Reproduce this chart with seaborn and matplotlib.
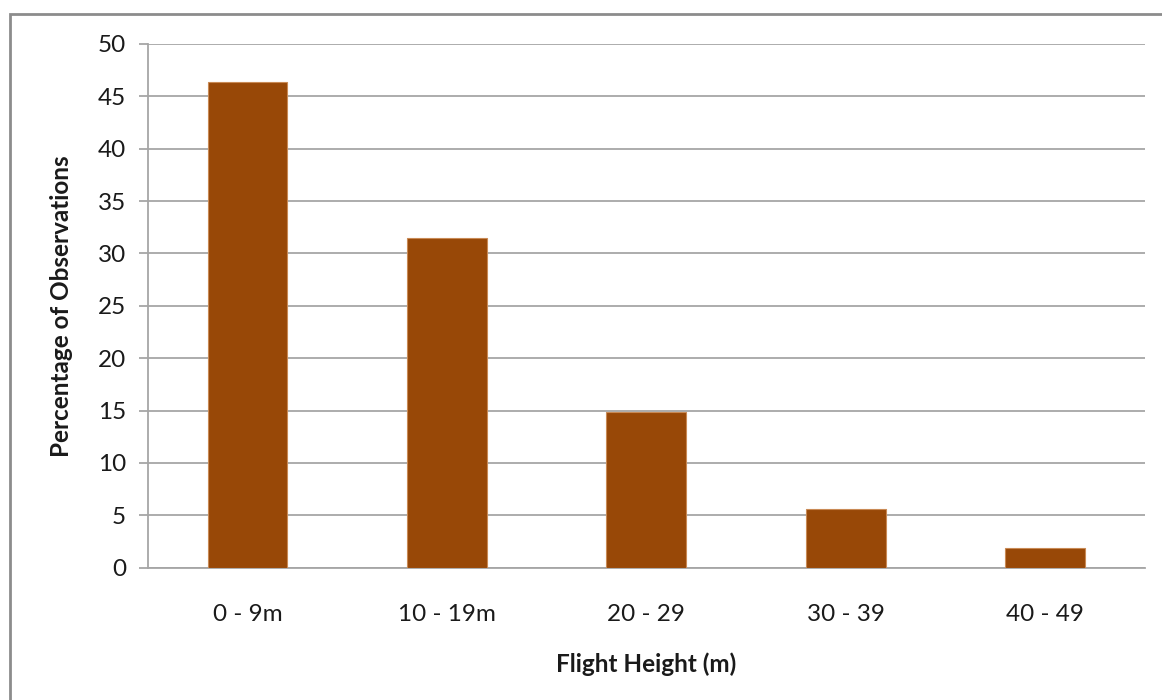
import matplotlib
matplotlib.use("Agg")
import matplotlib.pyplot as plt
from matplotlib.patches import Rectangle
import seaborn as sns
import pandas as pd

# Flight height bands and share of observations in each (%)
height_bands = ["0 - 9m", "10 - 19m", "20 - 29", "30 - 39", "40 - 49"]
pct_observations = [46.4, 31.5, 14.9, 5.6, 1.9]
y_ticks = [0, 5, 10, 15, 20, 25, 30, 35, 40, 45, 50]

sns.set_theme(style="white")
plt.rcParams["font.family"] = ["Lato", "DejaVu Sans"]

df = pd.DataFrame({"band": height_bands, "pct": pct_observations})

fig = plt.figure(figsize=(11.62, 7.00), dpi=100)
fig.patch.set_facecolor("white")

# Outer chart frame
fig.patches.append(Rectangle((10 / 1162, -0.05), 1.2, 1 - 14 / 700 + 0.05,
                             transform=fig.transFigure, fill=False,
                             edgecolor="#8c8c8c", linewidth=2.0, zorder=0))

ax = fig.add_axes([147.7 / 1162, 1 - 567.7 / 700,
                   (1145 - 147.7) / 1162, (567.7 - 44) / 700])

sns.barplot(data=df, x="band", y="pct", ax=ax, color="#984807",
            saturation=1, width=0.4, edgecolor="#c98a55", linewidth=0.8,
            zorder=3)

ax.set_ylim(0, 50)
ax.set_xlim(-0.5, len(height_bands) - 0.5)
ax.set_yticks(y_ticks)
ax.yaxis.grid(True, color="#a6a6a6", linewidth=1.3, zorder=0)
ax.xaxis.grid(False)
ax.set_axisbelow(True)

for side in ["top", "right"]:
    ax.spines[side].set_visible(False)
for side in ["left", "bottom"]:
    ax.spines[side].set_color("#a6a6a6")
    ax.spines[side].set_linewidth(1.3)

ax.tick_params(axis="y", which="major", left=True, length=6.5, width=1.3,
               color="#a6a6a6", pad=9, labelsize=17.5, labelcolor="#1a1a1a")
ax.tick_params(axis="x", which="major", bottom=False, pad=20,
               labelsize=17.5, labelcolor="#1a1a1a")

ax.set_xlabel("Flight Height (m)", fontsize=17.5, fontweight="bold",
              color="#1a1a1a", labelpad=20)
ax.set_ylabel("Percentage of Observations", fontsize=17.5, fontweight="bold",
              color="#1a1a1a", labelpad=18)

fig.savefig("out.png", dpi=100, facecolor="white")
